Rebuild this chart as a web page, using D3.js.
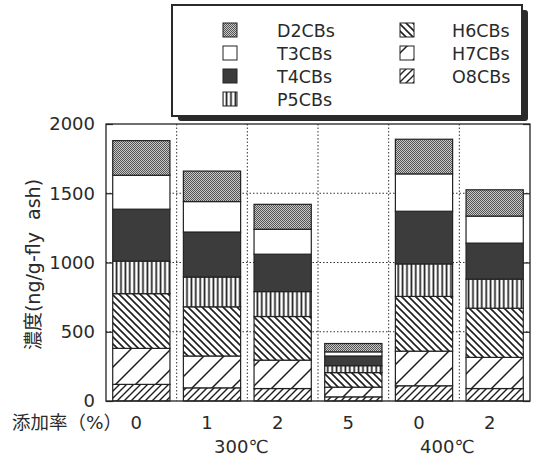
<!DOCTYPE html>
<html>
<head>
<meta charset="utf-8">
<script src="https://cdn.jsdelivr.net/npm/d3@7/dist/d3.min.js"></script>
<style>
  html, body { margin: 0; padding: 0; background: #fff; }
  svg { display: block; }
  text { font-family: "DejaVu Sans", "Noto Sans CJK JP", sans-serif; fill: #2a2a2a; }
</style>
</head>
<body>
<svg id="chart" width="534" height="460"></svg>
<script>
// Addition rate (%) for each column, grouped by temperature
const categories = ["0", "1", "2", "5", "0", "2"];
const groupLabels = ["300℃", "400℃"];
const groupMembers = [[0, 1, 2, 3], [4, 5]];

// PCB homologue concentrations (ng/g-fly ash), bottom of stack first
const seriesNames = ["O8CBs", "H7CBs", "H6CBs", "P5CBs", "T4CBs", "T3CBs", "D2CBs"];
const O8 = [120, 95, 90, 30, 110, 90];
const H7 = [260, 230, 205, 70, 250, 225];
const H6 = [395, 355, 315, 105, 395, 355];
const P5 = [235, 215, 180, 50, 235, 210];
const T4 = [375, 325, 270, 70, 380, 260];
const T3 = [245, 220, 180, 30, 270, 195];
const D2 = [250, 220, 180, 60, 250, 190];
const seriesValues = { O8CBs: O8, H7CBs: H7, H6CBs: H6, P5CBs: P5, T4CBs: T4, T3CBs: T3, D2CBs: D2 };

const yTicks = [0, 500, 1000, 1500, 2000];

const legendLeft = ["D2CBs", "T3CBs", "T4CBs", "P5CBs"];
const legendRight = ["H6CBs", "H7CBs", "O8CBs"];

const svg = d3.select("#chart");
const margin = { left: 106, right: 4, top: 124, bottom: 59 };
const W = 534, H = 460;
const x0 = margin.left, x1 = W - margin.right;
const yTop = margin.top, yBot = H - margin.bottom;

const x = d3.scaleBand().domain(d3.range(categories.length)).range([x0, x1])
  .paddingInner(0.19).paddingOuter(0.095);
const y = d3.scaleLinear().domain([0, 2000]).range([yBot, yTop]);

// ---- fill patterns ----
const defs = svg.append("defs");
function pat(id, w, h, build) {
  const p = defs.append("pattern").attr("id", id)
    .attr("patternUnits", "userSpaceOnUse").attr("width", w).attr("height", h);
  p.append("rect").attr("width", w).attr("height", h).attr("fill", "#fff");
  build(p);
}
// fine grey stipple
pat("pD2", 2, 2, p => {
  p.select("rect").attr("fill", "#c8c8c8");
  p.append("rect").attr("x", 0).attr("y", 0).attr("width", 1).attr("height", 1).attr("fill", "#555");
  p.append("rect").attr("x", 1).attr("y", 1).attr("width", 1).attr("height", 1).attr("fill", "#555");
});
pat("pP5", 4.4, 10, p => {
  p.append("line").attr("x1", 2.2).attr("x2", 2.2).attr("y1", 0).attr("y2", 10)
    .attr("stroke", "#1e1e1e").attr("stroke-width", 1.7);
});
pat("pH6", 7, 7, p => {
  p.append("path").attr("d", "M0,0L7,7M-1,6L1,8M6,-1L8,1").attr("stroke", "#1e1e1e").attr("stroke-width", 1.6);
});
pat("pH7", 20, 20, p => {
  p.append("path").attr("d", "M0,20L20,0M-2,2L2,-2M18,22L22,18").attr("stroke", "#1e1e1e").attr("stroke-width", 1.5);
});
pat("pO8", 7, 7, p => {
  p.append("path").attr("d", "M0,7L7,0M-1,1L1,-1M6,8L8,6").attr("stroke", "#1e1e1e").attr("stroke-width", 1.4);
});
const fills = {
  D2CBs: "url(#pD2)", T3CBs: "#ffffff", T4CBs: "#3c3c3c", P5CBs: "url(#pP5)",
  H6CBs: "url(#pH6)", H7CBs: "url(#pH7)", O8CBs: "url(#pO8)"
};

// ---- grid ----
const grid = svg.append("g");
grid.selectAll("line.h").data(yTicks.filter(t => t > 0 && t < 2000)).join("line")
  .attr("x1", x0).attr("x2", x1).attr("y1", d => y(d)).attr("y2", d => y(d))
  .attr("stroke", "#333").attr("stroke-width", 1).attr("stroke-dasharray", "1.5,2");
grid.selectAll("line.v").data(d3.range(1, categories.length)).join("line")
  .attr("x1", i => x0 + i * x.step()).attr("x2", i => x0 + i * x.step())
  .attr("y1", yTop).attr("y2", yBot)
  .attr("stroke", "#333").attr("stroke-width", 1).attr("stroke-dasharray", "1.5,2");

// ---- stacked bars ----
const rows = categories.map((c, i) => {
  const r = { i };
  seriesNames.forEach(s => r[s] = seriesValues[s][i]);
  return r;
});
const stacked = d3.stack().keys(seriesNames)(rows);
svg.append("g").selectAll("g").data(stacked).join("g")
  .attr("fill", d => fills[d.key])
  .selectAll("rect").data(d => d).join("rect")
  .attr("x", d => x(d.data.i))
  .attr("width", x.bandwidth())
  .attr("y", d => y(d[1]))
  .attr("height", d => y(d[0]) - y(d[1]))
  .attr("stroke", "#222").attr("stroke-width", 1.2);

// ---- frame and axes ----
svg.append("rect").attr("x", x0).attr("y", yTop).attr("width", x1 - x0).attr("height", yBot - yTop)
  .attr("fill", "none").attr("stroke", "#222").attr("stroke-width", 1.3);

const yAxis = d3.axisLeft(y).tickValues(yTicks).tickFormat(d3.format("d"))
  .tickSizeInner(-7).tickSizeOuter(0).tickPadding(11);
const gy = svg.append("g").attr("transform", `translate(${x0},0)`).call(yAxis);
gy.select(".domain").remove();
gy.selectAll(".tick line").attr("stroke", "#222").attr("stroke-width", 1.2);
gy.selectAll(".tick text").attr("font-size", 18).attr("font-family", "DejaVu Sans").attr("fill", "#2a2a2a");

const yAxisR = d3.axisRight(y).tickValues(yTicks).tickSizeInner(-7).tickSizeOuter(0).tickFormat("");
const gyr = svg.append("g").attr("transform", `translate(${x1},0)`).call(yAxisR);
gyr.select(".domain").remove();
gyr.selectAll(".tick line").attr("stroke", "#222").attr("stroke-width", 1.2);

// y axis title
svg.append("text")
  .attr("transform", `translate(40,${(yTop + yBot) / 2 + 2}) rotate(-90)`)
  .attr("text-anchor", "middle").attr("font-size", 19)
  .text("濃度(ng/g-fly\u00a0 ash)");

// x category labels
svg.append("g").selectAll("text").data(categories).join("text")
  .attr("x", (d, i) => x(i) + x.bandwidth() / 2 - 5)
  .attr("y", 429).attr("text-anchor", "middle").attr("font-size", 18)
  .text(d => d);
svg.append("text").attr("x", 12).attr("y", 429).attr("font-size", 18.5)
  .text("添加率（%）");

// temperature group labels
svg.append("g").selectAll("text").data(groupLabels).join("text")
  .attr("x", (d, gi) => {
    const m = groupMembers[gi];
    const a = x(m[0]), b = x(m[m.length - 1]) + x.bandwidth();
    return (a + b) / 2 - (gi === 0 ? 6 : 12);
  })
  .attr("y", 453).attr("text-anchor", "middle").attr("font-size", 18)
  .text(d => d);

// ---- legend ----
const lg = svg.append("g");
const lx = 172, ly = 5, lw = 350, lh = 111;
lg.append("rect").attr("x", lx + 6).attr("y", ly + 5).attr("width", lw).attr("height", lh)
  .attr("rx", 3).attr("fill", "#2a2a2a");
lg.append("rect").attr("x", lx).attr("y", ly).attr("width", lw).attr("height", lh)
  .attr("fill", "#fff").attr("stroke", "#2a2a2a").attr("stroke-width", 2);

function legendColumn(names, sx, tx) {
  const g = lg.append("g").selectAll("g").data(names).join("g")
    .attr("transform", (d, i) => `translate(0,${30 + i * 23})`);
  g.append("rect").attr("x", sx).attr("y", -7).attr("width", 14).attr("height", 14)
    .attr("fill", d => fills[d]).attr("stroke", "#222").attr("stroke-width", 1);
  g.append("text").attr("x", tx).attr("y", 6.5).attr("font-size", 17.5).text(d => d);
}
legendColumn(legendLeft, 223, 277);
legendColumn(legendRight, 400, 452);
</script>
</body>
</html>
